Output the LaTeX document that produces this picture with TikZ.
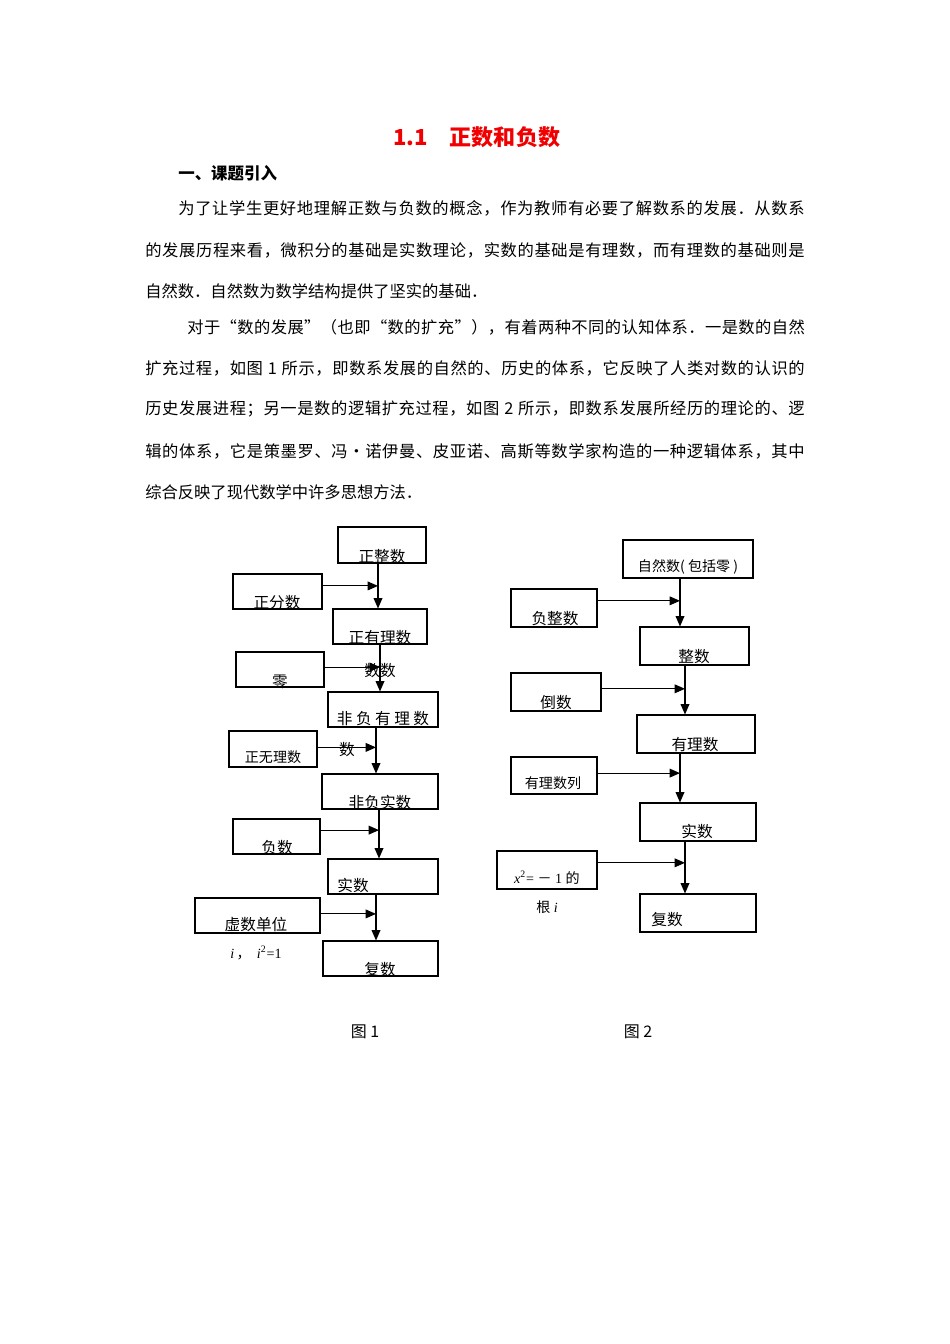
\documentclass[tikz,border=0pt]{standalone}
\usepackage{fontspec}
\usepackage{xcolor}
\usetikzlibrary{arrows.meta}
\setmainfont{Liberation Serif}
\newfontfamily\cjk{Noto Sans CJK SC}
\definecolor{titlered}{HTML}{F00000}
\newlength\pxu
\setlength\pxu{0.6263pt}
% even spacing between the characters of a justified line
\def\spreadline#1#2\endspread{#1\spreadaux#2\relax}
\def\spreadaux#1{\ifx#1\relax\else\hfil#1\expandafter\spreadaux\fi}
\newcommand\fullline[2]{\makebox[#1\pxu][l]{\spreadline#2\endspread}}

\begin{document}
\begin{tikzpicture}[
  x=0.6263pt, y=-0.6263pt,
  every node/.style={inner sep=0pt, align=center},
  bodyline/.style={anchor=west, font=\cjk\fontsize{10.2pt}{12pt}\selectfont},
  numbox/.style 2 args={draw, line width=0.7pt, minimum width=#1*\pxu, minimum height=#2*\pxu},
  boxtext/.style={font=\cjk\fontsize{9.8pt}{11pt}\selectfont},
  smalltext/.style={font=\fontsize{8.8pt}{10pt}\selectfont},
  arrow/.style={-{Triangle[length=6.5pt, width=5.5pt]}, line width=0.7pt, black}
]

% Page
\fill[white] (0,0) rectangle (950,1344);
\useasboundingbox (0,0) rectangle (950,1344);

% Title and heading
\node[anchor=west, text=titlered, font=\cjk\bfseries\fontsize{13.8pt}{16pt}\selectfont] (title) at (393,137) {1.1　正数和负数};
\node[anchor=west, font=\cjk\bfseries\fontsize{10.3pt}{12pt}\selectfont] (head) at (178,173) {一、课题引入};

% Text
\node[bodyline] (pa1) at (178,208) {\fullline{627}{为了让学生更好地理解正数与负数的概念，作为教师有必要了解数系的发展．从数系}};
\node[bodyline] (pa2) at (145,250) {\fullline{660}{的发展历程来看，微积分的基础是实数理论，实数的基础是有理数，而有理数的基础则是}};
\node[bodyline] (pa3) at (145,291) {自然数．自然数为数学结构提供了坚实的基础．};
\node[bodyline] (pb1) at (187,327) {\fullline{618}{对于“数的发展”（也即“数的扩充”），有着两种不同的认知体系．一是数的自然}};
\node[bodyline] (pb2) at (145,368) {\fullline{660}{扩充过程，如图\ 1\ 所示，即数系发展的自然的、历史的体系，它反映了人类对数的认识的}};
\node[bodyline] (pb3) at (145,409) {\fullline{660}{历史发展进程；另一是数的逻辑扩充过程，如图\ 2\ 所示，即数系发展所经历的理论的、逻}};
\node[bodyline] (pb4) at (145,451) {\fullline{660}{辑的体系，它是策墨罗、冯•诺伊曼、皮亚诺、高斯等数学家构造的一种逻辑体系，其中}};
\node[bodyline] (pb5) at (145,492) {综合反映了现代数学中许多思想方法．};

% Figure 1: boxes
\node[numbox={88}{36}] (zzs) at (382,545) {};
\node[numbox={89}{35}] (zfs) at (277.5,591.5) {};
\node[numbox={94}{35}] (zyl) at (380,626.5) {};
\node[numbox={88}{35}] (ling) at (280,669.5) {};
\node[numbox={110}{35}] (fyl) at (383,709.5) {};
\node[numbox={88}{36}] (zwl) at (273,749) {};
\node[numbox={116}{35}] (fsh) at (380,791.5) {};
\node[numbox={87}{35}] (fus) at (276.5,836.5) {};
\node[numbox={110}{35}] (shs) at (383,876.5) {};
\node[numbox={125}{35}] (xdw) at (257.5,915.5) {};
\node[numbox={115}{35}] (fush) at (380.5,958.5) {};

% Figure 1: texts
\node[boxtext] (tzzs) at (382,557) {正整数};
\node[boxtext] (tzfs) at (277,603) {正分数};
\node[boxtext] (tzyl) at (380,638) {正有理数};
\node[boxtext] (tling) at (280,682) {零};
\node[boxtext] (tss) at (380,671) {数数};
\node[boxtext] (tfyl) at (383,719) {非 负 有 理 数};
\node[boxtext, font=\cjk\fontsize{8.8pt}{10pt}\selectfont] (tzwl) at (273,757) {正无理数};
\node[boxtext] (tsh) at (347,750) {数};
\node[boxtext] (tfsh) at (380,803) {非负实数};
\node[boxtext] (tfus) at (277,848) {负数};
\node[boxtext] (tshs) at (353,886) {实数};
\node[boxtext] (txdw) at (256,925) {虚数单位};
\node[smalltext] (tunit) at (256,953) {\textit{i}\,{\cjk ，}\;\,\textit{i}\textsuperscript{2}=1};
\node[boxtext] (tfush) at (380,970) {复数};

% Figure 1: lines
\coordinate (la) at (378,0);
\coordinate (lb) at (380,0);
\coordinate (lc) at (376,0);
\coordinate (ld) at (379,0);
\draw[arrow] (zzs.south -| la) -- (zyl.north -| la);
\draw[arrow] (zyl.south -| lb) -- (fyl.north -| lb);
\draw[arrow] (fyl.south -| lc) -- (fsh.north -| lc);
\draw[arrow] (fsh.south -| ld) -- (shs.north -| ld);
\draw[arrow] (shs.south -| lc) -- (fush.north -| lc);
\draw[arrow] ([yshift=3.5pt]zfs.east) -- ([yshift=3.5pt]zfs.east -| la);
\draw[arrow] ([yshift=1.5pt]ling.east) -- ([yshift=1.5pt]ling.east -| lb);
\draw[arrow] ([yshift=1pt]zwl.east) -- ([yshift=1pt]zwl.east -| lc);
\draw[arrow] ([yshift=4pt]fus.east) -- ([yshift=4pt]fus.east -| ld);
\draw[arrow] ([yshift=1pt]xdw.east) -- ([yshift=1pt]xdw.east -| lc);

% Figure 2: boxes
\node[numbox={130}{38}] (zrs) at (688,559) {};
\node[numbox={86}{38}] (fzs) at (554,608) {};
\node[numbox={109}{38}] (zs) at (694.5,646) {};
\node[numbox={90}{38}] (ds) at (556,692) {};
\node[numbox={118}{38}] (yls) at (696,734) {};
\node[numbox={86}{37}] (ylsl) at (554,775.5) {};
\node[numbox={116}{38}] (ss) at (698,822) {};
\node[numbox={100}{38}] (xg) at (547,870) {};
\node[numbox={116}{38}] (fs) at (698,913) {};

% Figure 2: texts
\node[boxtext, font=\cjk\fontsize{8.8pt}{10pt}\selectfont] (tzrs) at (688,567) {自然数( 包括零 )};
\node[boxtext] (tfzs) at (555,619) {负整数};
\node[boxtext] (tzs) at (694,657) {整数};
\node[boxtext] (tds) at (556,703) {倒数};
\node[boxtext] (tyls) at (695,745) {有理数};
\node[boxtext, font=\cjk\fontsize{8.8pt}{10pt}\selectfont] (tylsl) at (553,783) {有理数列};
\node[boxtext] (tss2) at (697,832) {实数};
\node[smalltext] (txg) at (547,878) {\textit{x}\textsuperscript{2}= {\cjk －} 1 {\cjk 的}};
\node[smalltext] (tgen) at (547,907) {{\cjk 根} \textit{i}};
\node[boxtext] (tfs) at (667,920) {复数};

% Figure 2: lines
\coordinate (lx) at (680,0);
\coordinate (ly) at (685,0);
\draw[arrow] (zrs.south -| lx) -- (zs.north -| lx);
\draw[arrow] (zs.south -| ly) -- (yls.north -| ly);
\draw[arrow] (yls.south -| lx) -- (ss.north -| lx);
\draw[arrow] (ss.south -| ly) -- (fs.north -| ly);
\draw[arrow] ([yshift=4.5pt]fzs.east) -- ([yshift=4.5pt]fzs.east -| lx);
\draw[arrow] ([yshift=2pt]ds.east) -- ([yshift=2pt]ds.east -| ly);
\draw[arrow] ([yshift=1.5pt]ylsl.east) -- ([yshift=1.5pt]ylsl.east -| lx);
\draw[arrow] ([yshift=4.5pt]xg.east) -- ([yshift=4.5pt]xg.east -| ly);

% Captions
\node[font=\cjk\fontsize{10pt}{12pt}\selectfont] (cap1) at (365,1032) {图 1};
\node[font=\cjk\fontsize{10pt}{12pt}\selectfont] (cap2) at (638,1032) {图 2};

\end{tikzpicture}
\end{document}
